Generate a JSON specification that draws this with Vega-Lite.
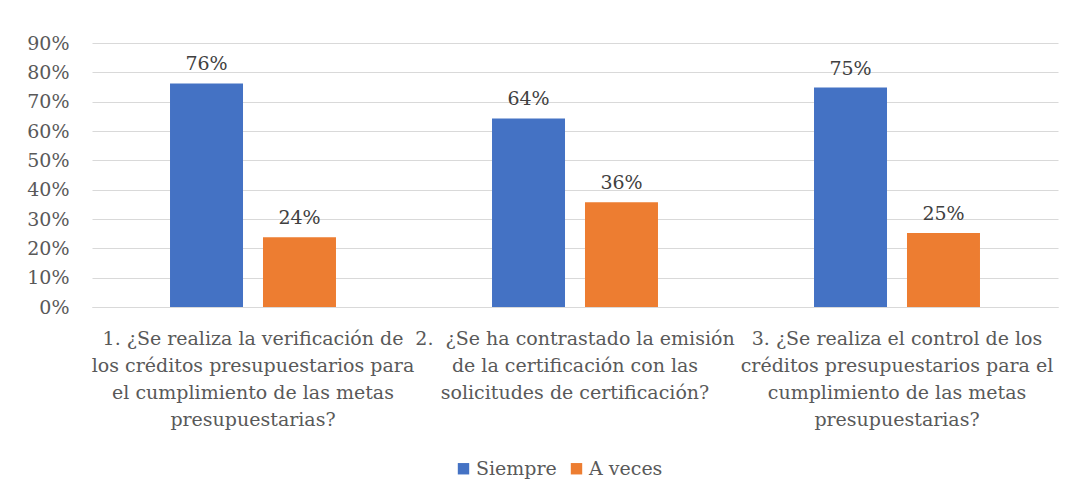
{
  "$schema": "https://vega.github.io/schema/vega-lite/v6.json",
  "autosize": {"type": "none"},
  "width": 966,
  "height": 264,
  "padding": {"left": 92, "top": 43, "right": 25, "bottom": 192},
  "background": "white",
  "config": {
    "view": {"stroke": null},
    "font": "DejaVu Serif",
    "axis": {"labelFont": "DejaVu Serif", "labelColor": "#595959", "labelFontSize": 19},
    "legend": {"labelFont": "DejaVu Serif", "labelColor": "#595959", "labelFontSize": 19}
  },
  "data": {
    "values": [
      {"pregunta": "1. ¿Se realiza la verificación de\nlos créditos presupuestarios para\nel cumplimiento de las metas\npresupuestarias?", "orden": 1, "serie": "Siempre", "valor": 0.762},
      {"pregunta": "1. ¿Se realiza la verificación de\nlos créditos presupuestarios para\nel cumplimiento de las metas\npresupuestarias?", "orden": 1, "serie": "A veces", "valor": 0.238},
      {"pregunta": "2. \u00a0¿Se ha contrastado la emisión\nde la certificación con las\nsolicitudes de certificación?", "orden": 2, "serie": "Siempre", "valor": 0.643},
      {"pregunta": "2. \u00a0¿Se ha contrastado la emisión\nde la certificación con las\nsolicitudes de certificación?", "orden": 2, "serie": "A veces", "valor": 0.357},
      {"pregunta": "3. ¿Se realiza el control de los\ncréditos presupuestarios para el\ncumplimiento de las metas\npresupuestarias?", "orden": 3, "serie": "Siempre", "valor": 0.748},
      {"pregunta": "3. ¿Se realiza el control de los\ncréditos presupuestarios para el\ncumplimiento de las metas\npresupuestarias?", "orden": 3, "serie": "A veces", "valor": 0.252}
    ]
  },
  "encoding": {
    "x": {
      "field": "pregunta", "type": "nominal", "sort": {"field": "orden"},
      "scale": {"paddingInner": 0, "paddingOuter": 0},
      "axis": {
        "title": null, "labelAngle": 0, "ticks": false, "domain": true, "domainColor": "#d9d9d9",
        "labelExpr": "split(datum.label, '\\n')", "labelLineHeight": 27, "labelPadding": 22,
        "labelLimit": 400
      }
    },
    "xOffset": {
      "field": "serie", "type": "nominal", "sort": ["Siempre", "A veces"],
      "scale": {"paddingInner": 0.215, "paddingOuter": 0.839}
    },
    "y": {
      "field": "valor", "type": "quantitative",
      "scale": {"domain": [0, 0.9], "nice": false},
      "axis": {
        "title": null, "format": ".0%", "values": [0, 0.1, 0.2, 0.3, 0.4, 0.5, 0.6, 0.7, 0.8, 0.9],
        "domain": false, "ticks": false, "gridColor": "#d9d9d9", "labelPadding": 23
      }
    }
  },
  "layer": [
    {
      "mark": {"type": "bar"},
      "encoding": {
        "color": {
          "field": "serie", "type": "nominal", "sort": ["Siempre", "A veces"],
          "scale": {"domain": ["Siempre", "A veces"], "range": ["#4472C4", "#ED7D31"]},
          "legend": {"title": null, "orient": "none", "legendX": 362, "legendY": 416, "direction": "horizontal", "symbolType": "square", "symbolSize": 130, "symbolStrokeWidth": 0, "columnPadding": 10, "labelOffset": 3}
        }
      }
    },
    {
      "mark": {"type": "text", "baseline": "bottom", "dy": -9, "fontSize": 19, "color": "#404040", "font": "DejaVu Serif"},
      "encoding": {
        "text": {"field": "valor", "type": "quantitative", "format": ".0%"}
      }
    }
  ]
}
